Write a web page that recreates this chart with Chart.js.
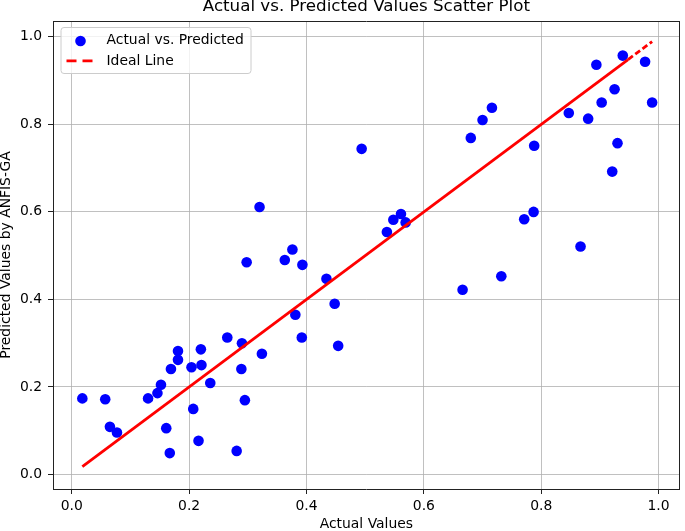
<!DOCTYPE html>
<html>
<head>
<meta charset="utf-8">
<script src="https://cdn.jsdelivr.net/npm/chart.js"></script>
<style>
  body { margin: 0; background: #fff; }
  canvas { display: block; }
</style>
</head>
<body>
<canvas id="myChart" width="685" height="531"></canvas>
<script>
// Datos: valores reales (eje X) y predichos (eje Y)
const actualValues = [
  0.018, 0.057, 0.065, 0.077, 0.130, 0.146, 0.152, 0.161, 0.167, 0.169,
  0.181, 0.181, 0.204, 0.207, 0.216, 0.220, 0.221, 0.236, 0.265, 0.281,
  0.289, 0.290, 0.295, 0.298, 0.324, 0.320, 0.494, 0.376, 0.363, 0.393,
  0.434, 0.448, 0.381, 0.392, 0.454, 0.537, 0.548, 0.561, 0.569, 0.666,
  0.732, 0.894, 0.939, 0.977, 0.925, 0.903, 0.989, 0.847, 0.880, 0.716,
  0.700, 0.680, 0.788, 0.930, 0.921, 0.787, 0.771, 0.867
]
const predictedValues = [
  0.174, 0.172, 0.109, 0.096, 0.174, 0.186, 0.205, 0.106, 0.049, 0.241,
  0.282, 0.262, 0.245, 0.150, 0.077, 0.286, 0.250, 0.209, 0.313, 0.054,
  0.241, 0.300, 0.170, 0.485, 0.276, 0.611, 0.744, 0.514, 0.490, 0.479,
  0.447, 0.390, 0.365, 0.313, 0.294, 0.554, 0.582, 0.595, 0.576, 0.422,
  0.453, 0.936, 0.957, 0.943, 0.880, 0.850, 0.850, 0.826, 0.813, 0.838,
  0.810, 0.769, 0.751, 0.757, 0.692, 0.600, 0.583, 0.521
]
// Línea ideal y = x (del mínimo al máximo de los valores reales)
const idealLine = [0.018, 0.948, 0.989]

// Ticks y límites de los ejes
const tickValues = [0, 0.2, 0.4, 0.6, 0.8, 1.0]
const tickLabels = ['0.0', '0.2', '0.4', '0.6', '0.8', '1.0']
const xRange = [-0.032, 1.036]
const yRange = [-0.033, 1.036]

const fontFamily = '"DejaVu Sans", sans-serif'
Chart.defaults.font.family = fontFamily
Chart.defaults.color = '#000'

const tickFont = { family: fontFamily, size: 13.9 }
const gridStyle = { color: '#b0b0b0', lineWidth: 0.8, tickColor: '#222', tickLength: 5, tickWidth: 1 }
const spine = { color: '#222', width: 1 }

function setTicks(scale) {
  scale.ticks = tickValues.map(v => ({ value: v }))
}

// Leyenda con marco, dibujada encima de la rejilla (como en matplotlib)
const legendBox = {
  id: 'legendBox',
  afterDraw(chart) {
    const ctx = chart.ctx
    const area = chart.chartArea
    const sets = chart.data.datasets
    const x0 = area.left + 8, y0 = area.top + 6.5, w = 190, h = 46, r = 3
    ctx.save()
    ctx.beginPath()
    ctx.moveTo(x0 + r, y0)
    ctx.arcTo(x0 + w, y0, x0 + w, y0 + h, r)
    ctx.arcTo(x0 + w, y0 + h, x0, y0 + h, r)
    ctx.arcTo(x0, y0 + h, x0, y0, r)
    ctx.arcTo(x0, y0, x0 + w, y0, r)
    ctx.closePath()
    ctx.fillStyle = 'rgba(255,255,255,0.8)'
    ctx.fill()
    ctx.strokeStyle = '#cccccc'
    ctx.lineWidth = 1
    ctx.stroke()

    // marcador de dispersión
    ctx.beginPath()
    ctx.arc(x0 + 19.5, y0 + 13.5, sets[0].pointRadius, 0, Math.PI * 2)
    ctx.fillStyle = sets[0].backgroundColor
    ctx.fill()

    // línea discontinua
    ctx.beginPath()
    ctx.setLineDash([10, 6])
    ctx.moveTo(x0 + 5.5, y0 + 33.3)
    ctx.lineTo(x0 + 31.5, y0 + 33.3)
    ctx.strokeStyle = sets[1].borderColor
    ctx.lineWidth = sets[1].borderWidth
    ctx.stroke()
    ctx.setLineDash([])

    ctx.font = '13.9px ' + fontFamily
    ctx.fillStyle = '#000'
    ctx.textBaseline = 'middle'
    ctx.fillText(sets[0].label, x0 + 45.5, y0 + 13)
    ctx.fillText(sets[1].label, x0 + 45.5, y0 + 33.4)
    ctx.restore()
  }
}

const ctx = document.getElementById('myChart')

new Chart(ctx, {
  type: 'scatter',
  data: {
    datasets: [
      {
        label: 'Actual vs. Predicted',
        data: actualValues.map((v, i) => ({ x: v, y: predictedValues[i] })),
        backgroundColor: '#0000ff',
        borderWidth: 0,
        pointRadius: 5.3,
        order: 2
      },
      {
        label: 'Ideal Line',
        data: idealLine.map(v => ({ x: v, y: v })),
        showLine: true,
        borderColor: '#ff0000',
        borderWidth: 2.8,
        pointRadius: 0,
        segment: {
          borderDash: c => c.p0DataIndex === 1 ? [6, 3] : undefined
        },
        order: 1
      }
    ]
  },
  options: {
    responsive: false,
    animation: false,
    devicePixelRatio: 1,
    layout: { padding: 0 },
    plugins: {
      legend: { display: false },
      tooltip: { enabled: false }
    },
    scales: {
      x: {
        type: 'linear',
        position: 'bottom',
        min: xRange[0],
        max: xRange[1],
        afterBuildTicks: setTicks,
        afterFit: s => { s.height = 42 },
        ticks: { font: tickFont, padding: 4, maxRotation: 0, autoSkip: false, callback: (v, i) => tickLabels[i] },
        grid: gridStyle,
        border: spine,
        title: { display: true, text: 'Actual Values', font: { size: 13.9, lineHeight: 0.94 }, padding: 0 }
      },
      y: {
        type: 'linear',
        position: 'left',
        min: yRange[0],
        max: yRange[1],
        afterBuildTicks: setTicks,
        afterFit: s => { s.width = 53 },
        ticks: { font: tickFont, padding: 6, autoSkip: false, callback: (v, i) => tickLabels[i] },
        grid: gridStyle,
        border: spine,
        title: { display: true, text: 'Predicted Values by ANFIS-GA', font: { size: 13.9, lineHeight: 0.94 }, padding: 0 }
      },
      // eje superior: sólo borde y título del gráfico
      x2: {
        type: 'linear',
        position: 'top',
        min: xRange[0],
        max: xRange[1],
        afterFit: s => { s.height = 21 },
        ticks: { display: false },
        grid: { display: false, drawTicks: false },
        border: spine,
        title: { display: true, text: 'Actual vs. Predicted Values Scatter Plot', font: { size: 16.7, lineHeight: 0.78 }, padding: 0 }
      },
      // eje derecho: sólo el borde
      y2: {
        type: 'linear',
        position: 'right',
        min: yRange[0],
        max: yRange[1],
        afterFit: s => { s.width = 2 },
        ticks: { display: false },
        grid: { display: false, drawTicks: false },
        border: spine
      }
    }
  },
  plugins: [legendBox]
})
</script>
</body>
</html>
